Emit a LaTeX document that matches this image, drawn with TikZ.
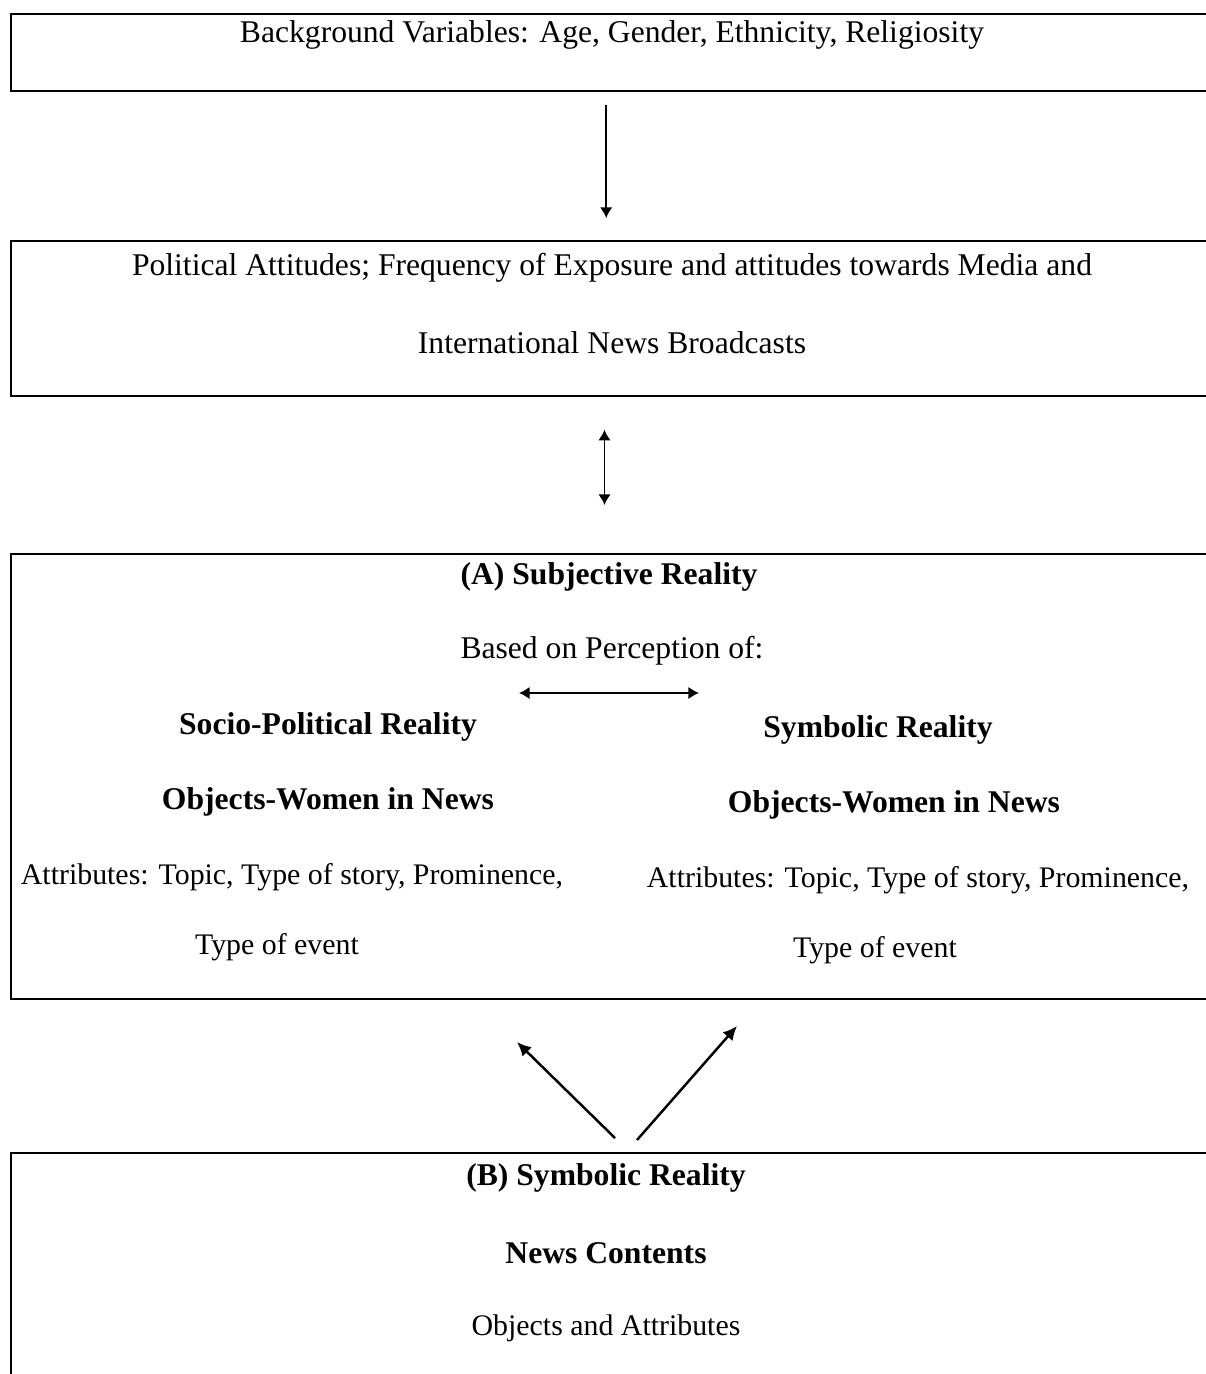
\documentclass[tikz,border=0pt]{standalone}
\usepackage{fontspec}
\setmainfont{Liberation Serif}
\usepackage{tikz}
\usetikzlibrary{positioning}
\usetikzlibrary{arrows.meta}

\tikzset{
    frame/.style={draw, line width=1pt, inner sep=0pt, anchor=north west, minimum width=24.1cm},
    txt/.style={font=\fontsize{18}{21}\selectfont},
    hd/.style={font=\fontsize{18}{21}\selectfont\bfseries},
    sm/.style={font=\fontsize{17}{20}\selectfont},
    link/.style={line width=1pt, -{Latex[length=6pt,width=7pt]}},
    both/.style={line width=1pt, {Latex[length=6pt,width=7pt]}-{Latex[length=6pt,width=7pt]}},
    slant/.style={line width=1.4pt, -{Latex[length=8pt,width=7.5pt]}}
}

\begin{document}
\begin{tikzpicture}[x=0.02cm, y=-0.02cm, node distance=1.5cm]
            \useasboundingbox (0,0) rectangle (1205,1374);
            % boxes
            \node[frame, minimum height=1.54cm] (bg_box) at (10,13) {};
            \node[frame, minimum height=3.1cm] (pol_box) at (10,240) {};
            \node[frame, minimum height=8.9cm] (subj_box) at (10,553) {};
            \node[frame, minimum height=6cm] (symb_box) at (10,1152) {};
            % texts
            \node[txt] (bg_text) at (612,35) {Background Variables: Age, Gender, Ethnicity, Religiosity};
            \node[txt] (pol_one) at (612,268) {Political Attitudes; Frequency of Exposure and attitudes towards Media and};
            \node[txt] (pol_two) [below of=pol_one] {International News Broadcasts};
            \node[hd] (subj_title) at (609,577) {(A) Subjective Reality};
            \node[txt] (based_on) at (612,651) {Based on Perception of:};
            \node[hd] (socio_head) at (328,727) {Socio-Political Reality};
            \node[hd] (objects_left) [below of=socio_head] {Objects-Women in News};
            \node[sm] (attr_left) at (292,877) {Attributes: Topic, Type of story, Prominence,};
            \node[sm] (event_left) at (277,947) {Type of event};
            \node[hd] (symb_head) at (878,730) {Symbolic Reality};
            \node[hd] (objects_right) at (894,805) {Objects-Women in News};
            \node[sm] (attr_right) at (918,880) {Attributes: Topic, Type of story, Prominence,};
            \node[sm] (event_right) at (875,950) {Type of event};
            \node[hd] (symb_title) at (606,1178) {(B) Symbolic Reality};
            \node[hd] (news_contents) [below of=symb_title] {News Contents};
            \node[sm] (obj_attr) [below of=news_contents] {Objects and Attributes};
            % arrow ends
            \coordinate (perc_left) at (519,693);
            \coordinate (perc_right) at (699,693);
            \coordinate (split_left) at (615,1138);
            \coordinate (split_right) at (637,1140);
            \coordinate (up_left) at (517,1042);
            \coordinate (up_right) at (737,1026);
            % arrows
            \draw[link, shorten <=0.26cm, shorten >=0.44cm] ([xshift=-4]bg_box.south) -- ([xshift=-4]pol_box.north);
            \draw[both, shorten <=0.66cm, shorten >=0.96cm] ([xshift=-5]pol_box.south) -- ([xshift=-5]subj_box.north);
            \draw[both] (perc_left) -- (perc_right);
            \draw[slant] (split_left) -- (up_left);
            \draw[slant] (split_right) -- (up_right);
        \end{tikzpicture}
\end{document}
